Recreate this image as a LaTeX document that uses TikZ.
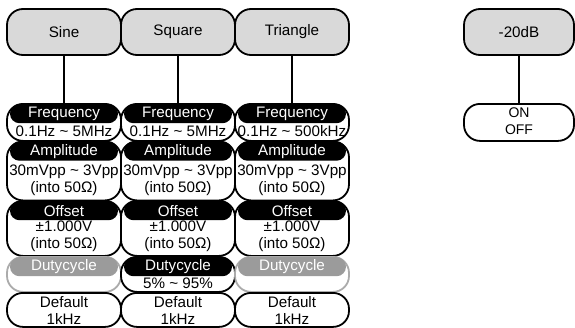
\documentclass[tikz,border=0pt]{standalone}
\usepackage{fontspec}
\setmainfont{Liberation Sans}
\definecolor{boxgray}{HTML}{D9D9D9}
\definecolor{disline}{HTML}{ABABAB}
\definecolor{dishead}{HTML}{9B9B9B}
\tikzset{
  x=1pt, y=1pt,
  txt/.style={font=\fontsize{15.2}{17}\selectfont},
  topbox/.style={txt, draw, line width=1.8pt, rounded corners=16pt, fill=boxgray,
    minimum width=114pt, minimum height=46pt, inner sep=0pt},
  pbox/.style={draw, line width=1.8pt, rounded corners=16pt, fill=white,
    minimum width=114pt, inner sep=0pt, anchor=north},
  hdr/.style={txt, fill=black, text=white, rounded corners=9.5pt,
    minimum width=108pt, minimum height=19pt, inner sep=0pt, anchor=north},
  val/.style={txt, inner sep=0pt, align=center},
  disbox/.style={pbox, draw=disline},
  dishdr/.style={hdr, fill=dishead},
  conn/.style={line width=1.8pt},
}
\newcommand{\tld}{\textasciitilde{}}
\begin{document}
\begin{tikzpicture}
\useasboundingbox (0,0) rectangle (575,-327);

% ---------- Sine column ----------
\node[topbox] (sine) at (64,-32) {Sine};
\node[pbox, minimum height=37pt] (sfreq) at (64,-103) {};
\node[hdr] (sfreqh) at (64,-104) {Frequency};
\node[val] (sfreqv) at (64,-131.5) {0.1Hz \tld{} 5MHz};
\node[pbox, minimum height=59pt] (sampl) at (64,-140.5) {};
\node[hdr] (samplh) at (64,-141.5) {Amplitude};
\node[val] (samplv) at (64,-180) {30mVpp \tld{} 3Vpp\\(into 50Ω)};
\node[pbox, minimum height=55pt] (soff) at (64,-200) {};
\node[hdr] (soffh) at (64,-201) {Offset};
\node[val] (soffv) at (64,-236.5) {±1.000V\\(into 50Ω)};
\node[disbox, minimum height=35pt] (sduty) at (64,-256) {};
\node[dishdr] (sdutyh) at (64,-257) {Dutycycle};
\node[pbox, minimum height=34pt] (sdef) at (64,-292) {};
\node[val] (sdefv) at (64,-310.5) {Default\\1kHz};
\draw[conn] (sine) -- (sfreq);

% ---------- Square column ----------
\node[topbox] (square) at (178,-32) {Square};
\node[pbox, minimum height=37pt] (qfreq) at (178,-103) {};
\node[hdr] (qfreqh) at (178,-104) {Frequency};
\node[val] (qfreqv) at (178,-131.5) {0.1Hz \tld{} 5MHz};
\node[pbox, minimum height=59pt] (qampl) at (178,-140.5) {};
\node[hdr] (qamplh) at (178,-141.5) {Amplitude};
\node[val] (qamplv) at (178,-180) {30mVpp \tld{} 3Vpp\\(into 50Ω)};
\node[pbox, minimum height=55pt] (qoff) at (178,-200) {};
\node[hdr] (qoffh) at (178,-201) {Offset};
\node[val] (qoffv) at (178,-236.5) {±1.000V\\(into 50Ω)};
\node[pbox, minimum height=35pt] (qduty) at (178,-256) {};
\node[hdr] (qdutyh) at (178,-257) {Dutycycle};
\node[val] (qdutyv) at (178,-283) {5\% \tld{} 95\%};
\node[pbox, minimum height=34pt] (qdef) at (178,-292) {};
\node[val] (qdefv) at (178,-310.5) {Default\\1kHz};
\draw[conn] (square) -- (qfreq);

% ---------- Triangle column ----------
\node[topbox] (triangle) at (292,-32) {Triangle};
\node[pbox, minimum height=37pt] (tfreq) at (292,-103) {};
\node[hdr] (tfreqh) at (292,-104) {Frequency};
\node[val] (tfreqv) at (292,-131.5) {0.1Hz \tld{} 500kHz};
\node[pbox, minimum height=59pt] (tampl) at (292,-140.5) {};
\node[hdr] (tamplh) at (292,-141.5) {Amplitude};
\node[val] (tamplv) at (292,-180) {30mVpp \tld{} 3Vpp\\(into 50Ω)};
\node[pbox, minimum height=55pt] (toff) at (292,-200) {};
\node[hdr] (toffh) at (292,-201) {Offset};
\node[val] (toffv) at (292,-236.5) {±1.000V\\(into 50Ω)};
\node[disbox, minimum height=35pt] (tduty) at (292,-256) {};
\node[dishdr] (tdutyh) at (292,-257) {Dutycycle};
\node[pbox, minimum height=34pt] (tdef) at (292,-292) {};
\node[val] (tdefv) at (292,-310.5) {Default\\1kHz};
\draw[conn] (triangle) -- (tfreq);

% ---------- -20dB column ----------
\node[topbox, minimum width=110pt] (db) at (519,-32) {-20dB};
\node[pbox, minimum width=110pt, minimum height=37pt] (onoff) at (519,-103) {};
\node[val, font=\fontsize{14}{17}\selectfont] (onoffv) at (519,-121.5) {ON\\OFF};
\draw[conn] (db) -- (onoff);
\end{tikzpicture}
\end{document}
